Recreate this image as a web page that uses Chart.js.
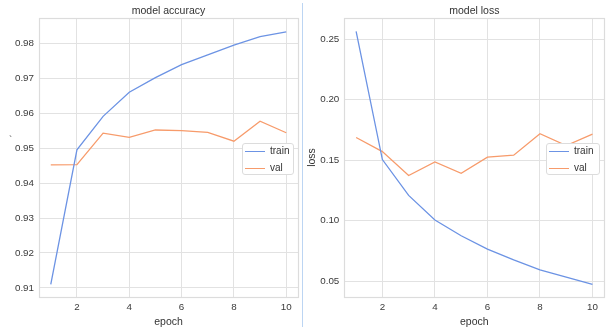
<!DOCTYPE html>
<html><head><meta charset="utf-8">
<script src="https://cdn.jsdelivr.net/npm/chart.js@4/dist/chart.umd.min.js"></script>
<style>
html,body{margin:0;padding:0;background:#fff;width:609px;height:333px;overflow:hidden;font-family:"Liberation Sans",Arial,sans-serif;}
#c1{position:absolute;left:0;top:0;}
#c2{position:absolute;left:303px;top:0;}
#sep{position:absolute;left:302px;top:3px;width:1px;height:324px;background:#bcd5f3;}
#mark{position:absolute;left:9px;top:135px;font-size:10px;color:#555;}
.leg{position:absolute;background:#fff;border:1px solid #dcdcdc;border-radius:3px;font-size:10px;color:#333;box-sizing:border-box;}
.leg .row{position:absolute;left:0;height:14px;line-height:14px;white-space:nowrap;}
.leg .ln{position:absolute;left:2px;top:7px;width:20px;height:1.3px;}
.leg .tx{position:absolute;left:27px;top:0;}
</style></head>
<body>
<canvas id="c1" width="302" height="333"></canvas>
<div id="sep"></div>
<canvas id="c2" width="306" height="333"></canvas>
<div id="mark">`</div>
<div id="leg1" class="leg" style="left:242px;top:143px;width:52px;height:32px;"></div>
<div id="leg2" class="leg" style="left:546px;top:143px;width:54px;height:32px;"></div>
<script>
const epochs = [1,2,3,4,5,6,7,8,9,10];
const accTrain = [0.9110,0.9495,0.9591,0.9660,0.9702,0.9739,0.9767,0.9795,0.9819,0.9833];
const accVal   = [0.9452,0.9453,0.9543,0.9531,0.9552,0.9550,0.9545,0.9520,0.9577,0.9544];
const lossTrain = [0.2563,0.1505,0.1209,0.1006,0.0876,0.0766,0.0677,0.0594,0.0534,0.0475];
const lossVal   = [0.1687,0.1571,0.1373,0.1486,0.1392,0.1525,0.1541,0.1718,0.1621,0.1715];
const xTicks = [2,4,6,8,10];
const accTicks = [0.91,0.92,0.93,0.94,0.95,0.96,0.97,0.98];
const lossTicks = [0.05,0.10,0.15,0.20,0.25];
const seriesNames = ['train','val'];

const TRAIN = '#6c93e4', VAL = '#f79b6b', GRID = '#e2e2e2', TXT = '#3a3a3a';
const FONT = '"Liberation Sans", Arial, sans-serif';

const frame = {
  id:'frame',
  afterDraw(chart){
    const a = chart.chartArea, ctx = chart.ctx;
    ctx.save(); ctx.strokeStyle = '#dcdcdc'; ctx.lineWidth = 1.2;
    ctx.strokeRect(Math.round(a.left)+0.5, Math.round(a.top)+0.5, Math.round(a.right-a.left), Math.round(a.bottom-a.top));
    const t = chart.options.plugins.areaTitle;
    if (t && t.text) {
      ctx.fillStyle = '#333';
      ctx.font = '10.5px ' + FONT;
      ctx.textAlign = 'center'; ctx.textBaseline = 'middle';
      ctx.fillText(t.text, (a.left + a.right) / 2, 11.5);
    }
    ctx.restore();
  }
};

function pts(ys){ return epochs.map((e,i)=>({x:e,y:ys[i]})); }

function make(id, title, ylabel, train, val, yTicks, ymin, ymax, yWidth, padRight){
  return new Chart(document.getElementById(id), {
    type:'line',
    data:{datasets:[
      {label:seriesNames[0], data:pts(train), borderColor:TRAIN, borderWidth:1.3, pointRadius:0, tension:0, fill:false},
      {label:seriesNames[1], data:pts(val), borderColor:VAL, borderWidth:1.3, pointRadius:0, tension:0, fill:false}
    ]},
    options:{
      responsive:false, animation:false, devicePixelRatio:1,
      layout:{padding:{left:0,right:padRight,top:18,bottom:0}},
      plugins:{
        legend:{display:false}, tooltip:{enabled:false}, title:{display:false},
        areaTitle:{text:title}
      },
      scales:{
        x:{type:'linear', min:0.55, max:10.45,
          afterBuildTicks(s){ s.ticks = xTicks.map(v=>({value:v})); },
          afterFit(s){ s.height = 36; },
          grid:{color:GRID, lineWidth:1, drawTicks:false},
          border:{display:false},
          ticks:{color:TXT, font:{family:FONT,size:9.8}, padding:4, maxRotation:0, callback:v=>String(v)},
          title:{display:true, text:'epoch', color:'#333', font:{family:FONT,size:10.5}, padding:{top:0,bottom:5}}
        },
        y:{type:'linear', min:ymin, max:ymax,
          afterBuildTicks(s){ s.ticks = yTicks.map(v=>({value:v})); },
          afterFit(s){ s.width = yWidth; },
          grid:{color:GRID, lineWidth:1, drawTicks:false},
          border:{display:false},
          ticks:{color:TXT, font:{family:FONT,size:9.8}, padding:5, callback:v=>v.toFixed(2)},
          title:{display:!!ylabel, text:ylabel, color:'#333', font:{family:FONT,size:10.5}, padding:{top:2.4,bottom:0}}
        }
      }
    },
    plugins:[frame]
  });
}

const ch1 = make('c1','model accuracy','',accTrain,accVal,accTicks,0.9074,0.98725,39,4);
const ch2 = make('c2','model loss','loss',lossTrain,lossVal,lossTicks,0.037,0.2674,41.3,4.7);

function legend(el, chart){
  chart.data.datasets.forEach((d,i)=>{
    const r = document.createElement('div'); r.className='row'; r.style.top=(i*17)+'px'; r.style.width='100%';
    const l = document.createElement('div'); l.className='ln'; l.style.background=d.borderColor;
    const t = document.createElement('div'); t.className='tx'; t.textContent=d.label;
    r.appendChild(l); r.appendChild(t); el.appendChild(r);
  });
}
legend(document.getElementById('leg1'), ch1);
legend(document.getElementById('leg2'), ch2);
</script>
</body></html>
